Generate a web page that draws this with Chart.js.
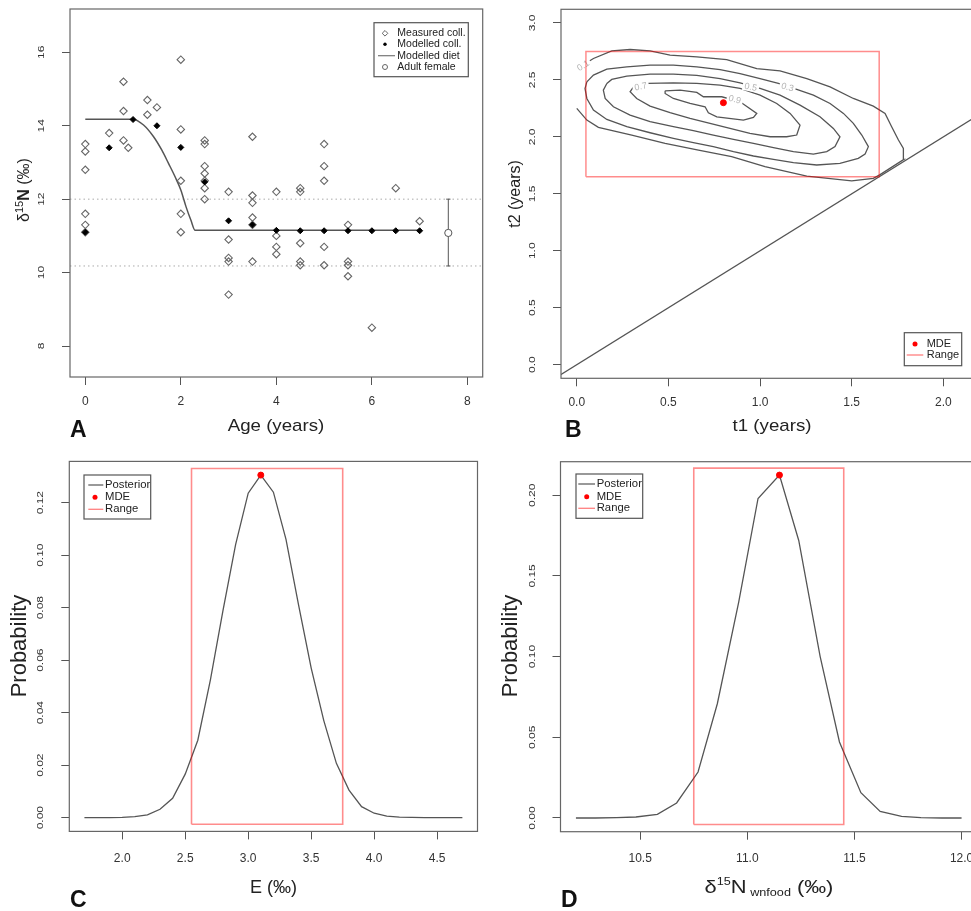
<!DOCTYPE html>
<html>
<head>
<meta charset="utf-8">
<script src="https://cdn.jsdelivr.net/npm/chart.js@4.4.1/dist/chart.umd.min.js"></script>
<style>
  html, body { margin: 0; padding: 0; background: #fff; overflow: hidden; width: 971px; height: 911px; }
  canvas { position: absolute; }
</style>
</head>
<body>
<canvas id="chartA" width="490" height="450" style="left:0;top:0"></canvas>
<canvas id="chartB" width="520" height="450" style="left:490px;top:0"></canvas>
<canvas id="chartC" width="490" height="461" style="left:0;top:450px"></canvas>
<canvas id="chartD" width="520" height="461" style="left:490px;top:450px"></canvas>
<script>
const FONT = '"Liberation Sans", Arial, Helvetica, sans-serif';

// ---- Panel A: collagen d15N vs age ----
const ageTicks = [0, 2, 4, 6, 8];
const d15nTicks = [8, 10, 12, 14, 16];
const measuredAge = [0, 0, 0, 0, 0, 0, 0.5, 0.8, 0.8, 0.8, 0.9, 1.3, 1.3, 1.5,
  2, 2, 2, 2, 2, 2.5, 2.5, 2.5, 2.5, 2.5, 2.5, 2.5, 3, 3, 3, 3, 3, 3.5, 3.5, 3.5, 3.5, 3.5, 3.5,
  4, 4, 4, 4, 4.5, 4.5, 4.5, 4.5, 4.5, 5, 5, 5, 5, 5, 5.5, 5.5, 5.5, 5.5, 6, 6.5, 7];
const measuredD15N = [13.5, 13.3, 12.8, 11.6, 11.3, 11.1, 13.8, 15.2, 14.4, 13.6, 13.4, 14.7, 14.3, 14.5,
  15.8, 13.9, 12.5, 11.6, 11.1, 13.6, 13.5, 12.9, 12.7, 12.5, 12.3, 12.0, 12.2, 10.9, 10.4, 10.3, 9.4, 13.7, 12.1, 11.9, 11.5, 11.3, 10.3,
  12.2, 11.0, 10.7, 10.5, 12.3, 12.2, 10.8, 10.3, 10.2, 13.5, 12.9, 12.5, 10.7, 10.2, 11.3, 10.3, 10.2, 9.9, 8.5, 12.3, 11.4];
const modelAge = [0, 0.5, 1, 1.5, 2, 2.5, 3, 3.5, 4, 4.5, 5, 5.5, 6, 6.5, 7];
const modelD15N = [11.1, 13.4, 14.17, 14.0, 13.41, 12.47, 11.41, 11.3, 11.15, 11.14, 11.14, 11.14, 11.14, 11.14, 11.14];
const dietAge = [0, 1.0, 1.22, 1.43, 1.6, 1.74, 1.88, 2.0, 2.11, 2.21, 2.3, 7.0];
const dietD15N = [14.18, 14.18, 14.02, 13.70, 13.34, 12.98, 12.61, 12.25, 11.79, 11.43, 11.15, 11.15];
const adultAge = [7.6];
const adultD15N = [11.08];
const adultLow = [10.18];
const adultHigh = [12.0];
const refLevels = [12.0, 10.18];

// ---- Panel B: joint posterior of t1, t2 ----
const t1Ticks = [0, 0.5, 1.0, 1.5, 2.0];
const t2Ticks = [0, 0.5, 1.0, 1.5, 2.0, 2.5, 3.0];
const c01T1 = [0.000, 0.055, 0.118, 0.300, 0.482, 0.664, 0.845, 1.027, 1.255, 1.500, 1.618, 1.655, 1.785, 1.782, 1.755, 1.718, 1.682, 1.618, 1.509, 1.382, 1.255, 1.109, 0.982, 0.818, 0.655, 0.509, 0.400, 0.291, 0.191, 0.091, 0.018];
const c01T2 = [2.250, 2.147, 2.083, 2.016, 1.943, 1.884, 1.826, 1.738, 1.656, 1.613, 1.636, 1.668, 1.803, 1.899, 1.972, 2.089, 2.206, 2.270, 2.337, 2.439, 2.512, 2.580, 2.600, 2.679, 2.702, 2.717, 2.755, 2.767, 2.755, 2.688, 2.615];
const c03T1 = [0.055, 0.091, 0.164, 0.273, 0.400, 0.527, 0.655, 0.782, 0.891, 1.000, 1.100, 1.200, 1.291, 1.382, 1.455, 1.509, 1.555, 1.591, 1.573, 1.536, 1.436, 1.309, 1.182, 1.073, 0.964, 0.855, 0.745, 0.636, 0.527, 0.400, 0.273, 0.164, 0.091, 0.055, 0.045, 0.055];
const c03T2 = [2.483, 2.542, 2.594, 2.615, 2.629, 2.629, 2.615, 2.591, 2.556, 2.512, 2.469, 2.416, 2.366, 2.293, 2.206, 2.118, 2.016, 1.914, 1.849, 1.811, 1.767, 1.753, 1.773, 1.803, 1.832, 1.870, 1.914, 1.949, 1.987, 2.036, 2.089, 2.153, 2.235, 2.337, 2.425, 2.483];
const c05T1 = [0.164, 0.191, 0.273, 0.400, 0.527, 0.655, 0.782, 0.891, 1.000, 1.109, 1.218, 1.327, 1.400, 1.436, 1.409, 1.364, 1.291, 1.182, 1.073, 0.964, 0.855, 0.745, 0.636, 0.527, 0.400, 0.291, 0.200, 0.155, 0.145, 0.164];
const c05T2 = [2.469, 2.504, 2.533, 2.550, 2.550, 2.539, 2.512, 2.474, 2.425, 2.366, 2.279, 2.176, 2.074, 2.001, 1.914, 1.870, 1.849, 1.870, 1.905, 1.943, 1.978, 2.016, 2.054, 2.089, 2.133, 2.191, 2.264, 2.337, 2.410, 2.469];
const c07T1 = [0.391, 0.527, 0.655, 0.782, 0.891, 1.000, 1.091, 1.164, 1.218, 1.200, 1.145, 1.055, 0.945, 0.836, 0.727, 0.618, 0.509, 0.400, 0.327, 0.291, 0.310, 0.391];
const c07T2 = [2.469, 2.474, 2.469, 2.454, 2.425, 2.366, 2.293, 2.206, 2.103, 2.016, 2.001, 2.001, 2.030, 2.074, 2.118, 2.162, 2.212, 2.270, 2.337, 2.396, 2.440, 2.469];
const c09T1 = [0.482, 0.564, 0.655, 0.691, 0.791, 0.891, 0.982, 0.964, 0.909, 0.764, 0.718, 0.700, 0.618, 0.527, 0.482, 0.482];
const c09T2 = [2.404, 2.410, 2.390, 2.352, 2.352, 2.308, 2.206, 2.171, 2.147, 2.176, 2.212, 2.264, 2.293, 2.337, 2.381, 2.404];
const contourLevels = ['0.1', '0.3', '0.5', '0.7', '0.9'];
const levelLabelT1 = [0.036, 1.149, 0.949, 0.349, 0.862];
const levelLabelT2 = [2.623, 2.434, 2.434, 2.439, 2.326];
const diagT1 = [-0.3, 2.5];
const rangeT1 = [0.05, 1.65];
const rangeT2 = [1.65, 2.75];
const mdeT1 = [0.8];
const mdeT2 = [2.3];

// ---- Panel C: posterior of E ----
const eTicks = [2.0, 2.5, 3.0, 3.5, 4.0, 4.5];
const probTicksC = [0, 0.02, 0.04, 0.06, 0.08, 0.10, 0.12];
const eValues = [1.7, 1.8, 1.9, 2.0, 2.1, 2.2, 2.3, 2.4, 2.5, 2.6, 2.7, 2.8, 2.9, 3.0, 3.1, 3.2, 3.3, 3.4, 3.5, 3.6, 3.7, 3.8, 3.9, 4.0, 4.1, 4.2, 4.3, 4.4, 4.5, 4.6, 4.7];
const eProb = [0, 0, 0, 0.0001, 0.0004, 0.0011, 0.0032, 0.0074, 0.0166, 0.0295, 0.0525, 0.079, 0.104, 0.1236, 0.1305, 0.124, 0.106, 0.081, 0.057, 0.037, 0.0207, 0.0105, 0.0042, 0.0017, 0.0006, 0.0002, 0.0001, 0, 0, 0, 0];
const rangeE = [2.55, 3.75];
const rangeProbC = [-0.0025, 0.133];
const mdeE = [3.1];
const mdeProbC = [0.1305];

// ---- Panel D: posterior of d15N wnfood ----
const foodTicks = [10.5, 11.0, 11.5, 12.0];
const probTicksD = [0, 0.05, 0.10, 0.15, 0.20];
const foodValues = [10.20, 10.29, 10.39, 10.48, 10.58, 10.67, 10.77, 10.86, 10.96, 11.05, 11.15, 11.24, 11.34, 11.43, 11.53, 11.62, 11.72, 11.81, 11.91, 12.00];
const foodProb = [0, 0, 0.0002, 0.0006, 0.0023, 0.0093, 0.0285, 0.0708, 0.134, 0.198, 0.2125, 0.172, 0.100, 0.0471, 0.0157, 0.0041, 0.0010, 0.0002, 0, 0];
const rangeFood = [10.75, 11.45];
const rangeProbD = [-0.004, 0.2168];
const mdeFood = [11.15];
const mdeProbD = [0.2125];

const toPts = (xs, ys) => xs.map((x, i) => ({ x: x, y: ys[i] }));
const rectPts = (xs, ys) => [
  { x: xs[0], y: ys[0] }, { x: xs[1], y: ys[0] }, { x: xs[1], y: ys[1] }, { x: xs[0], y: ys[1] }, { x: xs[0], y: ys[0] }
];

function xScale(min, max, ticks, fmt, height, pad) {
  return {
    type: 'linear', min: min, max: max,
    afterBuildTicks: s => { s.ticks = ticks.map(v => ({ value: v })); },
    afterFit: s => { s.height = height; },
    grid: { drawOnChartArea: false, drawTicks: true, tickLength: 8, color: '#555' },
    border: { display: false },
    ticks: { autoSkip: false, maxRotation: 0, minRotation: 0, padding: pad, color: '#333',
      font: { family: FONT, size: 12 }, callback: v => fmt(v) }
  };
}

function yScale(min, max, ticks, width) {
  return {
    type: 'linear', min: min, max: max,
    afterBuildTicks: s => { s.ticks = ticks.map(v => ({ value: v })); },
    afterFit: s => { s.width = width; },
    grid: { drawOnChartArea: false, drawTicks: true, tickLength: 8, color: '#555' },
    border: { display: false },
    ticks: { display: false }
  };
}

// text made of pieces (superscripts, subscripts), centred on x,y
function drawRich(ctx, parts, x, y, angle, stretch) {
  ctx.save();
  ctx.translate(x, y);
  if (angle) ctx.rotate(angle);
  if (stretch) ctx.scale(stretch, 1);
  let total = 0;
  parts.forEach(p => { ctx.font = p.font; p.w = ctx.measureText(p.text).width; total += p.w; });
  let cx = -total / 2;
  ctx.textAlign = 'left';
  ctx.textBaseline = 'middle';
  ctx.fillStyle = '#222';
  parts.forEach(p => { ctx.font = p.font; ctx.fillText(p.text, cx, p.dy || 0); cx += p.w; });
  ctx.restore();
}

function drawLegend(ctx, lg, ox, oy) {
  ctx.save();
  const x0 = lg.box[0] - ox, y0 = lg.box[1] - oy, x1 = lg.box[2] - ox, y1 = lg.box[3] - oy;
  ctx.fillStyle = '#fff';
  ctx.fillRect(x0, y0, x1 - x0, y1 - y0);
  ctx.strokeStyle = '#555';
  ctx.lineWidth = 1.2;
  ctx.strokeRect(x0, y0, x1 - x0, y1 - y0);
  lg.rows.forEach((r, i) => {
    const y = lg.rowY[i] - oy;
    const sx = lg.symX - ox;
    ctx.beginPath();
    if (r.sym === 'line') {
      ctx.strokeStyle = r.color; ctx.lineWidth = r.width || 1.2;
      ctx.moveTo(lg.lineX[0] - ox, y); ctx.lineTo(lg.lineX[1] - ox, y); ctx.stroke();
    } else if (r.sym === 'dot') {
      ctx.fillStyle = r.color; ctx.arc(sx, y, r.size, 0, Math.PI * 2); ctx.fill();
    } else if (r.sym === 'circle') {
      ctx.strokeStyle = r.color; ctx.lineWidth = 1; ctx.arc(sx, y, r.size, 0, Math.PI * 2); ctx.stroke();
    } else if (r.sym === 'diamond') {
      ctx.strokeStyle = r.color; ctx.lineWidth = 1;
      ctx.moveTo(sx, y - r.size); ctx.lineTo(sx + r.size, y); ctx.lineTo(sx, y + r.size); ctx.lineTo(sx - r.size, y);
      ctx.closePath(); ctx.stroke();
    }
    ctx.fillStyle = '#222';
    ctx.font = lg.font;
    ctx.textAlign = 'left';
    ctx.textBaseline = 'middle';
    ctx.fillText(r.label, lg.textX - ox, y);
  });
  ctx.restore();
}

function decor(spec) {
  return {
    id: 'decor',
    beforeDatasetDraw(chart, args) {
      if (spec.beforeRange && chart.data.datasets[args.index].label === 'Range') spec.beforeRange(chart);
    },
    afterDraw(chart) {
      const ctx = chart.ctx, a = chart.chartArea, ox = spec.ox, oy = spec.oy;
      ctx.save();
      ctx.strokeStyle = '#666';
      ctx.lineWidth = 1.2;
      ctx.strokeRect(a.left, a.top, a.right - a.left, a.bottom - a.top);
      ctx.fillStyle = '#333';
      ctx.font = '12px ' + FONT;
      ctx.textAlign = 'center';
      ctx.textBaseline = 'middle';
      spec.yTicks.forEach(v => {
        const py = chart.scales.y.getPixelForValue(v);
        ctx.save();
        ctx.translate(spec.yLabelX - ox, py);
        ctx.scale(0.8, 1);
        ctx.rotate(-Math.PI / 2);
        ctx.fillText(spec.yFmt(v), 0, 0);
        ctx.restore();
      });
      drawRich(ctx, spec.yTitle.parts, spec.yTitle.x - ox, spec.yTitle.y - oy, -Math.PI / 2);
      drawRich(ctx, spec.xTitle.parts, spec.xTitle.x - ox, spec.xTitle.y - oy, 0, spec.xTitle.stretch);
      ctx.fillStyle = '#111';
      ctx.font = 'bold 23px ' + FONT;
      ctx.textAlign = 'left';
      ctx.textBaseline = 'alphabetic';
      ctx.fillText(spec.letter.text, spec.letter.x - ox, spec.letter.y - oy);
      if (spec.legend) drawLegend(ctx, spec.legend, ox, oy);
      ctx.restore();
    }
  };
}

const baseOptions = (layoutPad, scales) => ({
  responsive: false,
  animation: false,
  events: [],
  layout: { padding: layoutPad },
  plugins: { legend: { display: false }, tooltip: { enabled: false } },
  scales: scales
});

const f0 = v => String(v);
const f1 = v => v.toFixed(1);
const f2 = v => v.toFixed(2);

// ---------- Chart A ----------
const xMinA = -0.32, xMaxA = 8.32;
new Chart(document.getElementById('chartA'), {
  type: 'scatter',
  data: {
    datasets: [
      { label: 'Modelled coll.', data: toPts(modelAge, modelD15N), pointStyle: 'rectRot', pointRadius: 3,
        pointBackgroundColor: '#000', pointBorderColor: '#000', pointBorderWidth: 1, order: 0 },
      { label: 'Adult female', data: toPts(adultAge, adultD15N), pointStyle: 'circle', pointRadius: 3.6,
        pointBackgroundColor: '#fff', pointBorderColor: '#555', pointBorderWidth: 1, order: 1 },
      { label: 'Adult range', data: [{ x: adultAge[0], y: adultLow[0] }, { x: adultAge[0], y: adultHigh[0] }],
        showLine: true, pointRadius: 0, borderColor: '#555', borderWidth: 1, order: 2 },
      { label: 'Cap high', data: [{ x: adultAge[0] - 0.045, y: adultHigh[0] }, { x: adultAge[0] + 0.045, y: adultHigh[0] }],
        showLine: true, pointRadius: 0, borderColor: '#555', borderWidth: 1, order: 2 },
      { label: 'Cap low', data: [{ x: adultAge[0] - 0.045, y: adultLow[0] }, { x: adultAge[0] + 0.045, y: adultLow[0] }],
        showLine: true, pointRadius: 0, borderColor: '#555', borderWidth: 1, order: 2 },
      { label: 'Measured coll.', data: toPts(measuredAge, measuredD15N), pointStyle: 'rectRot', pointRadius: 3.7,
        pointBackgroundColor: 'rgba(255,255,255,0)', pointBorderColor: '#666', pointBorderWidth: 1.1, order: 3 },
      { label: 'Modelled diet', data: toPts(dietAge, dietD15N), showLine: true, pointRadius: 0,
        borderColor: '#555', borderWidth: 1.5, cubicInterpolationMode: 'monotone', order: 4 },
      ...refLevels.map(lv => ({ label: 'ref', data: [{ x: xMinA, y: lv }, { x: xMaxA, y: lv }], showLine: true,
        pointRadius: 0, borderColor: '#aaa', borderWidth: 1, borderDash: [1.5, 3], order: 5 }))
    ]
  },
  options: baseOptions({ top: 9, right: 7.3, left: 0, bottom: 0 }, {
    x: xScale(xMinA, xMaxA, ageTicks, f0, 73, 9.5),
    y: yScale(7.156, 17.18, d15nTicks, 70)
  }),
  plugins: [decor({
    ox: 0, oy: 0, yTicks: d15nTicks, yFmt: f0, yLabelX: 41,
    yTitle: { x: 25, y: 190, parts: [
      { text: 'δ', font: '16px ' + FONT }, { text: '15', font: '11px ' + FONT, dy: -5 },
      { text: 'N', font: 'bold 16px ' + FONT }, { text: ' (‰)', font: '16px ' + FONT }] },
    xTitle: { x: 276, y: 426, stretch: 1.1, parts: [{ text: 'Age (years)', font: '17px ' + FONT }] },
    letter: { text: 'A', x: 70, y: 437 },
    legend: { box: [374, 22.7, 468.3, 76.7], rowY: [33.3, 44.3, 55.7, 67], symX: 385, lineX: [378, 395],
      textX: 397.3, font: '10.5px ' + FONT, rows: [
        { sym: 'diamond', color: '#666', size: 2.8, label: 'Measured coll.' },
        { sym: 'dot', color: '#000', size: 1.7, label: 'Modelled coll.' },
        { sym: 'line', color: '#777', width: 1.2, label: 'Modelled diet' },
        { sym: 'circle', color: '#666', size: 2.5, label: 'Adult female' }] }
  })]
});

// ---------- Chart B ----------
const contourSet = [[c01T1, c01T2], [c03T1, c03T2], [c05T1, c05T2], [c07T1, c07T2], [c09T1, c09T2]];
new Chart(document.getElementById('chartB'), {
  type: 'scatter',
  data: {
    datasets: [
      { label: 'MDE', data: toPts(mdeT1, mdeT2), pointStyle: 'circle', pointRadius: 3,
        pointBackgroundColor: '#ff0000', pointBorderColor: '#ff0000', order: 1 },
      { label: 'Range', data: rectPts(rangeT1, rangeT2), showLine: true, pointRadius: 0,
        borderColor: 'rgba(255,0,0,0.45)', borderWidth: 1.5, order: 2 },
      { label: 'Diagonal', data: toPts(diagT1, diagT1), showLine: true, pointRadius: 0,
        borderColor: '#555', borderWidth: 1.3, order: 3 },
      ...contourSet.map((c, i) => ({ label: 'level ' + contourLevels[i], data: toPts(c[0], c[1]), showLine: true,
        pointRadius: 0, borderColor: '#555', borderWidth: 1.3, order: 5 }))
    ]
  },
  options: baseOptions({ top: 9.3, right: 23.4, left: 0, bottom: 0 }, {
    x: xScale(-0.086, 2.236, t1Ticks, f1, 71.7, 9.5),
    y: yScale(-0.12, 3.12, t2Ticks, 71)
  }),
  plugins: [decor({
    ox: 490, oy: 0, yTicks: t2Ticks, yFmt: f1, yLabelX: 532,
    beforeRange: chart => {
      const ctx = chart.ctx;
      const angles = [-0.55, 0.26, 0.2, -0.18, 0.26];
      ctx.save();
      ctx.font = '9px ' + FONT;
      ctx.textAlign = 'center';
      ctx.textBaseline = 'middle';
      contourLevels.forEach((lv, i) => {
        const px = chart.scales.x.getPixelForValue(levelLabelT1[i]);
        const py = chart.scales.y.getPixelForValue(levelLabelT2[i]);
        const w = ctx.measureText(lv).width;
        ctx.save();
        ctx.translate(px, py);
        ctx.rotate(angles[i]);
        ctx.fillStyle = '#fff';
        ctx.fillRect(-w / 2 - 2, -4, w + 4, 8);
        ctx.fillStyle = '#b5b5b5';
        ctx.fillText(lv, 0, 0);
        ctx.restore();
      });
      ctx.restore();
    },
    yTitle: { x: 516, y: 194, parts: [{ text: 't2 (years)', font: '16px ' + FONT }] },
    xTitle: { x: 772, y: 426, stretch: 1.1, parts: [{ text: 't1 (years)', font: '17px ' + FONT }] },
    letter: { text: 'B', x: 565, y: 437 },
    legend: { box: [904.3, 332.7, 961.7, 365.7], rowY: [344, 355], symX: 915, lineX: [906.7, 923.3],
      textX: 926.7, font: '11px ' + FONT, rows: [
        { sym: 'dot', color: '#ff0000', size: 2.5, label: 'MDE' },
        { sym: 'line', color: 'rgba(255,0,0,0.5)', width: 1.3, label: 'Range' }] }
  })]
});

// ---------- Chart C ----------
new Chart(document.getElementById('chartC'), {
  type: 'scatter',
  data: {
    datasets: [
      { label: 'MDE', data: toPts(mdeE, mdeProbC), pointStyle: 'circle', pointRadius: 3,
        pointBackgroundColor: '#ff0000', pointBorderColor: '#ff0000', order: 1 },
      { label: 'Range', data: rectPts(rangeE, rangeProbC), showLine: true, pointRadius: 0,
        borderColor: 'rgba(255,0,0,0.45)', borderWidth: 1.6, order: 2 },
      { label: 'Posterior', data: toPts(eValues, eProb), showLine: true, pointRadius: 0,
        borderColor: '#555', borderWidth: 1.3, order: 3 }
    ]
  },
  options: baseOptions({ top: 11.4, right: 12.5, left: 0, bottom: 0 }, {
    x: xScale(1.58, 4.82, eTicks, f1, 79.6, 12),
    y: yScale(-0.00522, 0.13572, probTicksC, 69.3)
  }),
  plugins: [decor({
    ox: 0, oy: 450, yTicks: probTicksC, yFmt: f2, yLabelX: 40.5,
    yTitle: { x: 20, y: 646, parts: [{ text: 'Probability', font: '22px ' + FONT }] },
    xTitle: { x: 273.4, y: 888, parts: [{ text: 'E (‰)', font: '18px ' + FONT }] },
    letter: { text: 'C', x: 70, y: 907 },
    legend: { box: [84, 475, 150.7, 519], rowY: [485, 497.3, 509.3], symX: 95, lineX: [88.3, 103.3],
      textX: 105, font: '11.3px ' + FONT, rows: [
        { sym: 'line', color: '#555', width: 1.2, label: 'Posterior' },
        { sym: 'dot', color: '#ff0000', size: 2.5, label: 'MDE' },
        { sym: 'line', color: 'rgba(255,0,0,0.5)', width: 1.3, label: 'Range' }] }
  })]
});

// ---------- Chart D ----------
new Chart(document.getElementById('chartD'), {
  type: 'scatter',
  data: {
    datasets: [
      { label: 'MDE', data: toPts(mdeFood, mdeProbD), pointStyle: 'circle', pointRadius: 3,
        pointBackgroundColor: '#ff0000', pointBorderColor: '#ff0000', order: 1 },
      { label: 'Range', data: rectPts(rangeFood, rangeProbD), showLine: true, pointRadius: 0,
        borderColor: 'rgba(255,0,0,0.45)', borderWidth: 1.6, order: 2 },
      { label: 'Posterior', data: toPts(foodValues, foodProb), showLine: true, pointRadius: 0,
        borderColor: '#555', borderWidth: 1.3, order: 3 }
    ]
  },
  options: baseOptions({ top: 11.7, right: 33, left: 0, bottom: 0 }, {
    x: xScale(10.128, 12.072, foodTicks, f1, 79.3, 12),
    y: yScale(-0.0085, 0.2208, probTicksD, 70.5)
  }),
  plugins: [decor({
    ox: 490, oy: 450, yTicks: probTicksD, yFmt: f2, yLabelX: 532,
    yTitle: { x: 511, y: 646, parts: [{ text: 'Probability', font: '22px ' + FONT }] },
    xTitle: { x: 769, y: 888, stretch: 1.15, parts: [
      { text: 'δ', font: '19px ' + FONT }, { text: '15', font: '11px ' + FONT, dy: -6 },
      { text: 'N', font: '19px ' + FONT }, { text: ' wnfood', font: '11px ' + FONT, dy: 5 },
      { text: ' (‰)', font: '19px ' + FONT }] },
    letter: { text: 'D', x: 561, y: 907 },
    legend: { box: [576, 474, 642.7, 518.3], rowY: [484, 496.7, 508.3], symX: 586.7, lineX: [578.3, 595],
      textX: 596.7, font: '11.3px ' + FONT, rows: [
        { sym: 'line', color: '#555', width: 1.2, label: 'Posterior' },
        { sym: 'dot', color: '#ff0000', size: 2.5, label: 'MDE' },
        { sym: 'line', color: 'rgba(255,0,0,0.5)', width: 1.3, label: 'Range' }] }
  })]
});
</script>
</body>
</html>
